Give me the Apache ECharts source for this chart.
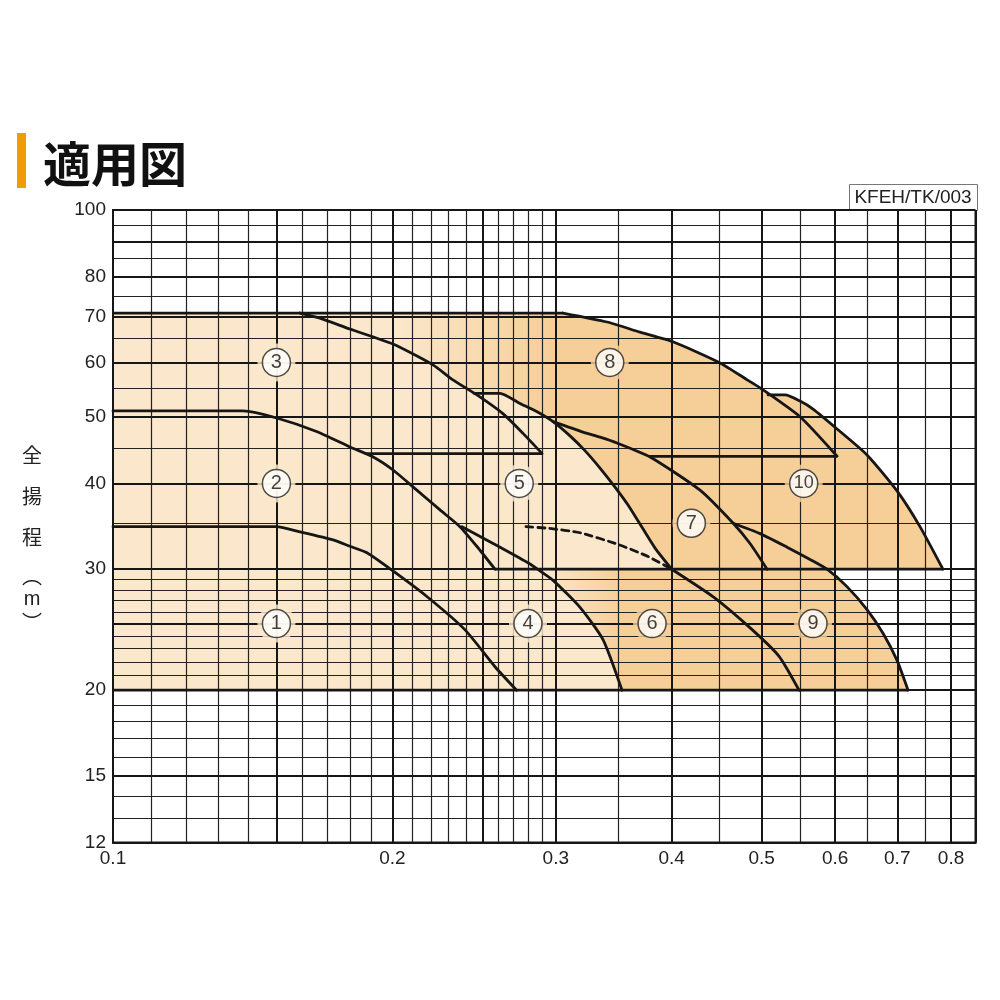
<!DOCTYPE html>
<html><head><meta charset="utf-8">
<script src="https://cdn.jsdelivr.net/npm/echarts@6/dist/echarts.min.js"></script>
<style>html,body{margin:0;padding:0;background:#fff}#c{width:1000px;height:1000px}</style>
</head><body><div id="c"></div>
<script>
// ---- axis grid / tick values ----
const xMajor = [0.1, 0.15, 0.2, 0.25, 0.3, 0.4, 0.5, 0.6, 0.7, 0.8, 0.85];
const xMinor = [0.11, 0.12, 0.13, 0.14, 0.16, 0.17, 0.18, 0.19, 0.21, 0.22, 0.23, 0.24, 0.26, 0.27, 0.28, 0.29, 0.35, 0.45, 0.55, 0.65, 0.75];
const xLabels = [0.1, 0.2, 0.3, 0.4, 0.5, 0.6, 0.7, 0.8];
const yMajor = [12, 15, 20, 25, 30, 40, 50, 60, 70, 80, 90, 100];
const yMinor = [13, 14, 16, 17, 18, 19, 21, 22, 23, 24, 26, 27, 28, 29, 35, 45, 55, 65, 75, 85, 95];
const yLabels = [12, 15, 20, 30, 40, 50, 60, 70, 80, 100];

// ---- pump curves [Q (m3/min), H (m)] ----
const curve1 = [[0.1,34.6],[0.150,34.6],[0.159,34.0],[0.1726,33.1],[0.180,32.4],[0.1878,31.7],[0.1998,29.9],[0.2177,27.4],[0.2394,24.5],[0.2583,21.6],[0.2722,20]];
const curve2 = [[0.1,51],[0.1381,51],[0.1501,49.8],[0.1657,47.6],[0.180,45.2],[0.1907,43.7],[0.2005,41.8],[0.2125,39.1],[0.2251,36.6],[0.2365,34.6],[0.2466,32.4],[0.258,30]];
const curve3 = [[0.159,70.8],[0.1671,69.6],[0.18,67.1],[0.2003,63.8],[0.2212,59.5],[0.2324,56.6],[0.2467,53.8],[0.2633,50.5],[0.2766,47.3],[0.29,44.2]];
const curve4 = [[0.2377,34.6],[0.2568,32.7],[0.2794,30.7],[0.2867,30],[0.298,28.9],[0.3186,26.4],[0.3373,23.7],[0.3536,20]];
const curve5 = [[0.2449,54.1],[0.2612,54.1],[0.2745,52.3],[0.2861,50.9],[0.298,49.2],[0.3108,46.9],[0.3227,44.6],[0.3348,42.1],[0.3475,39.5],[0.3589,37.2],[0.3707,34.7],[0.3838,32.2],[0.4,30]];
const curve6 = [[0.4,30],[0.4442,27.3],[0.4883,24.5],[0.5221,22.4],[0.5486,20]];
const curve6dash = [[0.2786,34.6],[0.295,34.4],[0.3186,33.9],[0.3501,32.6],[0.3773,31.3],[0.4,30]];
const curve7 = [[0.298,49.2],[0.321,47.5],[0.3348,46.7],[0.3492,45.8],[0.3791,43.7],[0.4291,39.1],[0.4659,35.0],[0.4858,32.7],[0.5068,30]];
const curve8 = [[0.3054,70.8],[0.3407,68.7],[0.3698,66.4],[0.4012,64.3],[0.451,59.9],[0.4824,56.6],[0.4981,55.1],[0.55,50.0],[0.6029,43.8]];
const curve9 = [[0.4659,35.0],[0.4981,33.8],[0.5325,32.3],[0.5638,31.0],[0.5881,30.0],[0.6179,28.3],[0.6494,26.2],[0.6757,24.2],[0.6996,22.1],[0.719,20]];
const curve10 = [[0.508,53.8],[0.53,53.8],[0.55,52.7],[0.568,51.3],[0.6029,48.0],[0.6494,44.0],[0.6996,39.0],[0.7406,34.6],[0.784,30]];

// ---- straight boundary lines ----
const topLine = [[0.1,70.8],[0.3054,70.8]];
const line44a = [[0.187,44.2],[0.29,44.2]];
const line44b = [[0.378,43.8],[0.6029,43.8]];
const line30 = [[0.258,30],[0.784,30]];
const line20 = [[0.1,20],[0.719,20]];

// ---- circled region labels ----
const labelPts = [[0.15,25],[0.15,40],[0.15,60],[0.28,25],[0.274,40],[0.381,25],[0.42,35],[0.343,60],[0.568,25],[0.555,40]];
const labelTexts = ['1','2','3','4','5','6','7','8','9','10'];

// ---- fill polygons built from the curves ----
const lightPoly = [[0.1,20],[0.1,70.8]].concat(curve3.slice(0,6), curve5, curve4.slice(3));
const darkPoly = [[0.1,20],[0.1,70.8]].concat(curve8.slice(0,7), curve10, curve9.slice(4));
const fadePoly = curve4.slice(3).concat([[0.36,20],[0.36,30]]);

const LIGHT = '#FBE8CC';
const ORANGE = '#F6CE97';
const INK = '#161616';

function polySeries(pts, fillFn, z) {
  return {
    type: 'custom', coordinateSystem: 'cartesian2d', z: z, silent: true,
    data: pts, encode: {x: 0, y: 1},
    renderItem: function (params, api) {
      if (params.dataIndex !== 0) return null;
      const p = pts.map(d => api.coord(d));
      return {type: 'polygon', shape: {points: p}, style: {fill: fillFn(api), stroke: null}};
    }
  };
}
function grad(api, q0, q1) {
  const x0 = api.coord([q0, 30])[0], x1 = api.coord([q1, 30])[0];
  return new echarts.graphic.LinearGradient(x0, 0, x1, 0, [{offset: 0, color: LIGHT}, {offset: 1, color: ORANGE}], true);
}
function lineSeries(data, dashed) {
  return {
    type: 'line', data: data, symbol: 'none', smooth: 0.2,
    lineStyle: {color: INK, width: 2.8, type: dashed ? [7, 5] : 'solid', cap: 'round', join: 'round'},
    z: 8, silent: true
  };
}
function straight(data) {
  return {type: 'line', data: data, symbol: 'none', lineStyle: {color: INK, width: 2.8}, z: 8, silent: true};
}

const FONT = 'Liberation Sans, Arial, Helvetica, sans-serif';
const axisCommon = {type: 'log', logBase: 10, z: 5};
const vStyle = (t, f) => ({text: t, font: f, fill: '#222', align: 'center', verticalAlign: 'middle', textAlign: 'center', textVerticalAlign: 'middle'});
const CJK = '20px "Noto Sans CJK JP"';

const option = {
  animation: false,
  backgroundColor: '#fff',
  grid: {left: 113, top: 210, right: 24.5, bottom: 157.4, show: true, borderColor: INK, borderWidth: 2, outerBoundsMode: 'none'},
  xAxis: [
    Object.assign({}, axisCommon, {
      min: 0.1, max: 0.85, position: 'bottom',
      axisLine: {show: true, onZero: false, lineStyle: {color: INK, width: 2}},
      axisTick: {show: false, customValues: xMajor},
      axisLabel: {show: true, customValues: xLabels, fontSize: 19, color: '#222', margin: 7, fontFamily: FONT,
        formatter: v => String(Math.round(v * 100) / 100)},
      splitLine: {show: true, lineStyle: {color: INK, width: 2}}
    }),
    Object.assign({}, axisCommon, {
      min: 0.1, max: 0.85, position: 'top',
      axisLine: {show: false}, axisTick: {show: false, customValues: xMinor}, axisLabel: {show: false},
      splitLine: {show: true, lineStyle: {color: '#222', width: 1.2}}
    })
  ],
  yAxis: [
    Object.assign({}, axisCommon, {
      min: 12, max: 100, position: 'left',
      axisLine: {show: true, onZero: false, lineStyle: {color: INK, width: 2}},
      axisTick: {show: false, customValues: yMajor},
      axisLabel: {show: true, customValues: yLabels, fontSize: 19, color: '#222', margin: 7, fontFamily: FONT,
        formatter: v => String(Math.round(v))},
      splitLine: {show: true, lineStyle: {color: INK, width: 2}}
    }),
    Object.assign({}, axisCommon, {
      min: 12, max: 100, position: 'right',
      axisLine: {show: false}, axisTick: {show: false, customValues: yMinor}, axisLabel: {show: false},
      splitLine: {show: true, lineStyle: {color: '#222', width: 1.2}}
    })
  ],
  series: [
    polySeries(darkPoly, api => grad(api, 0.2, 0.3), 1),
    polySeries(fadePoly, api => grad(api, 0.29, 0.355), 2),
    polySeries(lightPoly, () => LIGHT, 3),
    lineSeries(curve1), lineSeries(curve2), lineSeries(curve3), lineSeries(curve4), lineSeries(curve5),
    lineSeries(curve6), lineSeries(curve6dash, true), lineSeries(curve7), lineSeries(curve8), lineSeries(curve9), lineSeries(curve10),
    straight(topLine), straight(line44a), straight(line44b), straight(line30), straight(line20),
    {
      type: 'scatter', z: 9, silent: true, symbolSize: 38,
      data: labelPts.map((p, i) => ({value: p, itemStyle: {color: i < 5 ? LIGHT : ORANGE}}))
    },
    {
      type: 'scatter', z: 10, silent: true, symbolSize: 28,
      itemStyle: {color: '#fff', borderColor: '#222', borderWidth: 1.5},
      label: {show: true, position: 'inside', formatter: '{b}', color: '#111', fontSize: 20, fontFamily: FONT},
      data: labelPts.map((p, i) => ({name: labelTexts[i], value: p, label: i === 9 ? {fontSize: 18} : undefined}))
    }
  ],
  graphic: [
    {type: 'rect', shape: {x: 17, y: 133, width: 9, height: 55}, style: {fill: '#EE9E00'}},
    {type: 'text', x: 43, y: 164, style: {text: '適用図', font: 'bold 48px "Noto Sans CJK JP"', fill: '#111', align: 'left', verticalAlign: 'middle', textAlign: 'left', textVerticalAlign: 'middle'}},
    {type: 'rect', shape: {x: 849.5, y: 184.5, width: 128, height: 26}, style: {fill: '#fff', stroke: '#777', lineWidth: 1}},
    {type: 'text', x: 913, y: 198, style: vStyle('KFEH/TK/003', '19px "Liberation Sans"')},
    {type: 'text', x: 32, y: 455, style: vStyle('全', CJK)},
    {type: 'text', x: 32, y: 496, style: vStyle('揚', CJK)},
    {type: 'text', x: 32, y: 537, style: vStyle('程', CJK)},
    {type: 'text', x: 32, y: 576, style: vStyle('︵', CJK)},
    {type: 'text', x: 32, y: 599, style: vStyle('m', '20px "Liberation Sans"')},
    {type: 'text', x: 32, y: 622, style: vStyle('︶', CJK)}
  ]
};
const chart = echarts.init(document.getElementById('c'), null, {renderer: 'canvas'});
chart.setOption(option);
</script></body></html>
